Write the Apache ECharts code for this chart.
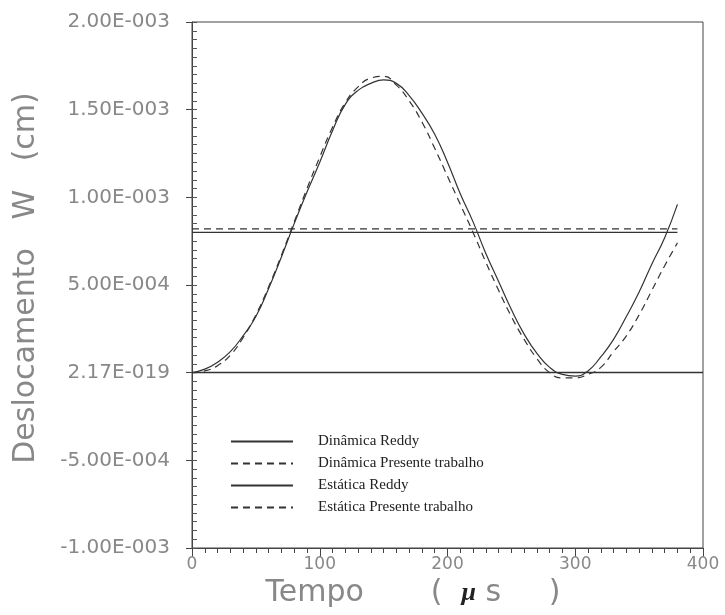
<!DOCTYPE html>
<html>
<head>
<meta charset="utf-8">
<script src="https://cdn.jsdelivr.net/npm/echarts@6/dist/echarts.min.js"></script>
<style>html,body{margin:0;padding:0;background:#fff;}#c{width:725px;height:615px;background:#fff;}</style>
</head>
<body>
<div id="c"></div>
<script>
// Time (µs) for dynamic curves
const tempo = [0,10,20,30,40,50,60,70,80,90,100,110,120,130,140,150,160,170,180,190,200,210,220,230,240,250,260,270,280,290,300,310,320,330,340,350,360,370,380];
// Deslocamento W (cm)
const dinamicaReddy = [0,0.02e-3,0.06e-3,0.12e-3,0.21e-3,0.32e-3,0.48e-3,0.66e-3,0.85e-3,1.03e-3,1.20e-3,1.38e-3,1.53e-3,1.61e-3,1.65e-3,1.67e-3,1.65e-3,1.58e-3,1.48e-3,1.36e-3,1.20e-3,1.02e-3,0.86e-3,0.68e-3,0.52e-3,0.36e-3,0.22e-3,0.11e-3,0.03e-3,-0.01e-3,-0.02e-3,0.01e-3,0.09e-3,0.19e-3,0.32e-3,0.46e-3,0.62e-3,0.77e-3,0.96e-3];
const dinamicaPresente = [0,0.01e-3,0.04e-3,0.10e-3,0.20e-3,0.33e-3,0.49e-3,0.67e-3,0.86e-3,1.05e-3,1.23e-3,1.40e-3,1.54e-3,1.63e-3,1.68e-3,1.69e-3,1.64e-3,1.55e-3,1.43e-3,1.28e-3,1.12e-3,0.96e-3,0.80e-3,0.63e-3,0.47e-3,0.32e-3,0.19e-3,0.08e-3,0.00,-0.03e-3,-0.03e-3,-0.01e-3,0.03e-3,0.12e-3,0.21e-3,0.33e-3,0.47e-3,0.61e-3,0.74e-3];
// Static solutions
const tempoEstatica = [0, 380];
const estaticaReddy = [8.0e-4, 8.0e-4];
const estaticaPresente = [8.2e-4, 8.2e-4];
// Axis tick labels
const yTickLabels = ["-1.00E-003","-5.00E-004","2.17E-019","5.00E-004","1.00E-003","1.50E-003","2.00E-003"];
const xTickLabels = ["0","100","200","300","400"];
const legendNames = ["Dinâmica Reddy","Dinâmica Presente trabalho","Estática Reddy","Estática Presente trabalho"];

const yMin = -1e-3, yMax = 2e-3, yInt = 5e-4, yMinorInt = 5e-5;
const xMin = 0, xMax = 400, xInt = 100;
const pairs = (xs, ys) => xs.map((x, i) => [x, ys[i]]);
const lineColor = '#333';
const dash = [7, 5];
const axisColor = '#444';

const chart = echarts.init(document.getElementById('c'));
chart.setOption({
  animation: false,
  grid: {left: 192, right: 22, top: 22, bottom: 67, show: true, borderColor: axisColor, borderWidth: 1},
  legend: {
    orient: 'vertical', left: 225, top: 429, itemGap: 7, itemWidth: 62, itemHeight: 14,
    selectedMode: false,
    itemStyle: {color: 'rgba(0,0,0,0)', borderColor: 'rgba(0,0,0,0)', borderWidth: 0},
    textStyle: {fontFamily: 'Liberation Serif', fontSize: 15, color: '#222', padding: [0, 0, 0, 20]},
    data: legendNames
  },
  xAxis: [{
    type: 'value', min: xMin, max: xMax, interval: xInt,
    axisLine: {show: true, onZero: false, lineStyle: {color: axisColor, width: 1}},
    axisTick: {show: true, inside: false, length: 9},
    minorTick: {show: true, splitNumber: 10, length: 5},
    splitLine: {show: false},
    axisLabel: {
      fontFamily: 'DejaVu Sans', fontSize: 17, color: '#888',
      formatter: v => xTickLabels[Math.round(v / xInt)]
    },
    name: '{a|Tempo       (  }{m|μ}{a| s     )}',
    nameLocation: 'middle', nameGap: 30,
    nameTextStyle: {
      padding: [0, 69, 0, 0],
      rich: {
        a: {fontFamily: 'DejaVu Sans', fontSize: 30, color: '#888'},
        m: {fontFamily: 'Liberation Serif', fontSize: 26, fontWeight: 'bold', fontStyle: 'italic', color: '#222'}
      }
    }
  }],
  yAxis: [{
    type: 'value', min: yMin, max: yMax, interval: yInt,
    axisLine: {show: true, onZero: false, lineStyle: {color: axisColor, width: 1}},
    axisTick: {show: true, inside: false, length: 6},
    splitLine: {show: false},
    axisLabel: {
      fontFamily: 'DejaVu Sans', fontSize: 20, color: '#888', margin: 22,
      formatter: v => yTickLabels[Math.round((v - yMin) / yInt)]
    },
    name: 'Deslocamento   W   (cm)', nameLocation: 'middle', nameGap: 151,
    nameTextStyle: {fontFamily: 'DejaVu Sans', fontSize: 30, color: '#888', padding: [0, 0, 0, 14]}
  }, {
    type: 'value', min: yMin, max: yMax, interval: yMinorInt, position: 'left',
    axisLine: {show: false, onZero: false},
    axisTick: {show: true, inside: true, length: 5},
    splitLine: {show: false},
    axisLabel: {show: false}
  }],
  series: [{
    name: legendNames[0], type: 'line', data: pairs(tempo, dinamicaReddy), smooth: true,
    symbol: 'none', lineStyle: {color: lineColor, width: 1.2, type: 'solid'}, itemStyle: {color: lineColor},
    markLine: {
      silent: true, symbol: 'none', label: {show: false},
      lineStyle: {color: '#333', width: 1.3, type: 'solid'},
      data: [{yAxis: 0}]
    }
  }, {
    name: legendNames[1], type: 'line', data: pairs(tempo, dinamicaPresente), smooth: true,
    symbol: 'none', lineStyle: {color: lineColor, width: 1.2, type: dash}, itemStyle: {color: lineColor}
  }, {
    name: legendNames[2], type: 'line', data: pairs(tempoEstatica, estaticaReddy),
    yAxisIndex: 1,
    symbol: 'none', lineStyle: {color: lineColor, width: 1.3, type: 'solid'}, itemStyle: {color: lineColor}
  }, {
    name: legendNames[3], type: 'line', data: pairs(tempoEstatica, estaticaPresente),
    symbol: 'none', lineStyle: {color: lineColor, width: 1.2, type: dash}, itemStyle: {color: lineColor}
  }]
});
</script>
</body>
</html>
